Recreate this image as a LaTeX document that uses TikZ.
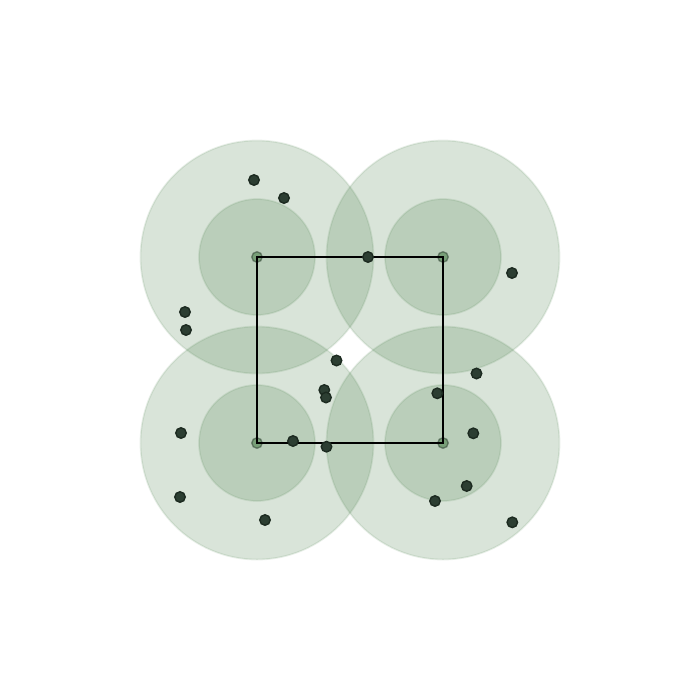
\documentclass[tikz,border=0pt]{standalone}
\definecolor{zone}{RGB}{65,120,65}
\definecolor{dotc}{RGB}{44,62,50}
\definecolor{dotedge}{RGB}{28,42,32}
\tikzset{
  bigzone/.style={circle, fill=zone, fill opacity=0.2, draw=zone, draw opacity=0.12, line width=0.5pt, minimum size=233*0.1mm, inner sep=0pt},
  smallzone/.style={circle, fill=zone, fill opacity=0.2, draw=zone, draw opacity=0.12, line width=0.5pt, minimum size=116*0.1mm, inner sep=0pt},
  hub/.style={circle, fill=zone, fill opacity=0.55, draw=dotedge, draw opacity=0.45, line width=0.4pt, minimum size=10.5*0.1mm, inner sep=0pt},
  pt/.style={circle, fill=dotc, draw=dotedge, line width=0.4pt, minimum size=10.5*0.1mm, inner sep=0pt},
  edge/.style={draw=black, line width=0.35pt}
}
\begin{document}
\begin{tikzpicture}[x=0.1mm, y=-0.1mm]
\useasboundingbox (0,0) rectangle (700,700);
% zones
\foreach \n/\x/\y in {A/257/257, B/443/257, C/257/443, D/443/443}{
  \node[bigzone] (big\n) at (\x,\y) {};
}
\foreach \n/\x/\y in {A/257/257, B/443/257, C/257/443, D/443/443}{
  \node[smallzone] (small\n) at (\x,\y) {};
}
% hubs
\node[hub] (hA) at (257,257) {};
\node[hub] (hB) at (443,257) {};
\node[hub] (hC) at (257,443) {};
\node[hub] (hD) at (443,443) {};
\draw[edge] (hA.center) -- (hB.center) -- (hD.center) -- (hC.center) -- cycle;
% points
\foreach \i/\x/\y in {1/254/180, 2/284/198, 3/368/257, 4/512/273, 5/185/312, 6/186/330,
  7/336.5/360.5, 8/476.5/373.5, 9/324.3/390, 10/326/397.5, 11/437.3/393.3, 12/181/433,
  13/293/441, 14/326.5/446.7, 15/473.3/433.3, 16/466.7/486, 17/180/497, 18/435/501,
  19/265/520, 20/512.3/522.3}{
  \node[pt] (p\i) at (\x,\y) {};
}
\end{tikzpicture}
\end{document}
